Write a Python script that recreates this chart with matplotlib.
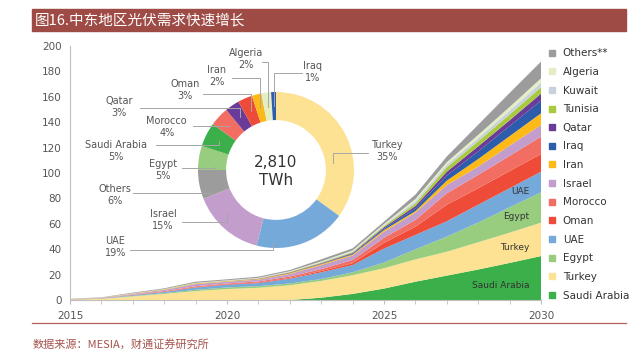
import numpy as np
import matplotlib.pyplot as plt
from matplotlib.lines import Line2D
from matplotlib.patches import Rectangle

plt.rcParams['font.family'] = ['DejaVu Sans', 'Noto Sans CJK SC']

years = list(range(2015, 2031))

# stacked area, TWh (bottom to top)
series_names = ['Saudi Arabia', 'Turkey', 'Egypt', 'UAE', 'Oman', 'Morocco', 'Israel',
                'Iran', 'Iraq', 'Qatar', 'Tunisia', 'Kuwait', 'Algeria', 'Others**']
saudi   = [0, 0, 0, 0, 0, 0, 0, 0, 1.8, 4.8, 9.0, 14.4, 19.2, 24.0, 29.2, 34.6]
turkey  = [0.3, 0.9, 2.8, 4.8, 7.0, 8.6, 9.6, 11.6, 13.2, 14.7, 16.0, 17.6, 18.8, 21.5, 23.8, 26.3]
egypt   = [0.05, 0.1, 0.4, 0.6, 1.0, 1.3, 1.3, 1.4, 1.5, 2.3, 4.5, 7.9, 11.9, 15.5, 20.0, 23.9]
uae     = [0.1, 0.2, 0.6, 0.9, 1.8, 2.1, 2.4, 3.8, 5.3, 5.7, 11.0, 11.3, 12.1, 14.0, 15.0, 16.2]
oman    = [0.05, 0.05, 0.1, 0.2, 0.3, 0.4, 0.5, 0.6, 1.0, 1.5, 4.5, 6.5, 13.0, 13.0, 13.5, 14.0]
morocco = [0.1, 0.1, 0.3, 0.5, 0.7, 0.6, 0.8, 1.1, 1.5, 2.5, 4.0, 5.3, 9.0, 10.5, 12.0, 13.6]
israel  = [0.1, 0.25, 0.6, 1.0, 1.8, 1.4, 1.4, 2.0, 3.2, 3.5, 4.8, 5.8, 6.5, 6.5, 8.0, 9.2]
iran    = [0.05, 0.1, 0.2, 0.3, 0.4, 0.4, 0.5, 0.7, 0.8, 0.8, 1.3, 1.2, 3.5, 6.0, 7.5, 9.2]
iraq    = [0, 0, 0, 0, 0, 0, 0.1, 0.2, 0.3, 0.6, 1.1, 2.2, 4.0, 6.0, 8.0, 10.0]
qatar   = [0, 0, 0, 0, 0, 0.1, 0.2, 0.3, 0.4, 0.6, 1.0, 1.8, 3.0, 4.0, 4.5, 5.5]
tunisia = [0.05, 0.05, 0.1, 0.1, 0.2, 0.2, 0.2, 0.3, 0.5, 0.7, 1.0, 2.0, 3.5, 4.0, 4.5, 5.0]
kuwait  = [0, 0.05, 0.1, 0.1, 0.1, 0.2, 0.2, 0.3, 0.4, 0.6, 0.8, 1.8, 2.0, 2.5, 3.0, 3.5]
algeria = [0.05, 0.05, 0.1, 0.1, 0.2, 0.2, 0.3, 0.4, 0.5, 0.7, 0.8, 1.7, 2.0, 2.5, 3.0, 3.5]
others  = [0.15, 0.25, 0.5, 0.6, 0.9, 0.8, 0.9, 0.9, 1.6, 1.7, 1.9, 3.5, 4.5, 8.0, 11.0, 13.2]
series = [saudi, turkey, egypt, uae, oman, morocco, israel, iran, iraq, qatar,
          tunisia, kuwait, algeria, others]

colors = {'Saudi Arabia': '#3BAF4A', 'Turkey': '#FCE292', 'Egypt': '#98CD80',
          'UAE': '#74A9DA', 'Oman': '#EE4B38', 'Morocco': '#F26E62',
          'Israel': '#C39DCB', 'Iran': '#FDB917', 'Iraq': '#2C5CAA',
          'Qatar': '#6B3B99', 'Tunisia': '#A9CA3C', 'Kuwait': '#C9D2DC',
          'Algeria': '#E3EEC4', 'Others**': '#9C9C9C', 'Others': '#9C9C9C'}

# donut: share of 2030 total (2,810 TWh)
pie_labels = ['Turkey', 'UAE', 'Israel', 'Others', 'Egypt', 'Saudi Arabia', 'Morocco',
              'Qatar', 'Oman', 'Iran', 'Algeria', 'Iraq']
pie_share = [35, 19, 15, 6, 5, 5, 4, 3, 3, 2, 2, 1]

inline_labels = ['UAE', 'Egypt', 'Turkey', 'Saudi Arabia']
inline_y = [85.3, 65.4, 41.7, 11.8]

fig = plt.figure(figsize=(6.42, 3.54), dpi=100)

# title bar
fig.patches.append(Rectangle((32 / 642, 1 - 31 / 354), 594 / 642, 22 / 354,
                             transform=fig.transFigure, color='#9E4B46', zorder=0))
fig.text(35 / 642, 1 - 20 / 354, '图16.中东地区光伏需求快速增长', color='white',
         fontsize=10.5, family=['Noto Sans CJK SC'], va='center', ha='left')
fig.lines.append(Line2D([32 / 642, 626 / 642], [1 - 323 / 354] * 2,
                        transform=fig.transFigure, color='#B5605A', lw=0.9))
fig.text(33 / 642, 1 - 344 / 354, '数据来源：MESIA，财通证券研究所', color='#A5534C',
         fontsize=8, family=['Noto Sans CJK SC'], va='center', ha='left')

# main stacked area
ax = fig.add_axes([70 / 642, 54 / 354, 471 / 642, 254 / 354])
ax.stackplot(years, *series, colors=[colors[n] for n in series_names], lw=0)
ax.set_xlim(2015, 2030)
ax.set_ylim(0, 200)
ax.set_yticks(range(0, 201, 20))
ax.set_xticks(years, minor=True)
ax.set_xticks([2015, 2020, 2025, 2030])
ax.tick_params(axis='y', length=0, labelsize=7.5, labelcolor='#555555', pad=6)
ax.tick_params(axis='x', which='both', length=3, color='#BFBFBF', labelsize=7.5,
               labelcolor='#555555', pad=5)
for s in ['top', 'right']:
    ax.spines[s].set_visible(False)
for s in ['left', 'bottom']:
    ax.spines[s].set_color('#BFBFBF')
    ax.spines[s].set_linewidth(0.8)

for name, yv in zip(inline_labels, inline_y):
    ax.text(2029.62, yv, name, ha='right', va='center', fontsize=6.5, color='#333333')

handles = [Line2D([], [], marker='s', ls='none', markersize=4.5, color=colors[n])
           for n in series_names[::-1]]
fig.legend(handles, series_names[::-1], loc='upper left',
           bbox_to_anchor=(543 / 642, 1 - 43 / 354), frameon=False, fontsize=7.5,
           labelspacing=0.83, handlelength=0.8, handletextpad=0.6, borderpad=0,
           labelcolor='#333333')

# donut
pax = fig.add_axes([(276 - 78) / 642, (354 - 170 - 78) / 354, 156 / 642, 156 / 354])
pax.pie(pie_share, colors=[colors[n] for n in pie_labels], startangle=90,
        counterclock=False, radius=1, wedgeprops=dict(width=0.36, linewidth=0))
pax.set_xlim(-1, 1)
pax.set_ylim(-1, 1)
pax.axis('off')
pax.text(0, 0.09, '2,810', ha='center', va='center', fontsize=11, color='#333333')
pax.text(0, -0.13, 'TWh', ha='center', va='center', fontsize=11, color='#333333')

# label layout: text x, text y, leader y, leader start x, position in slice, radius
label_pos = {
    'Algeria':      (-0.39, 1.42, 1.38, -0.18, 0.5, 0.82),
    'Iraq':         (0.47, 1.26, 1.25, 0.33, 0.5, 0.82),
    'Iran':         (-0.76, 1.20, 1.18, -0.57, 0.5, 0.82),
    'Oman':         (-1.17, 1.02, 0.98, -0.94, 0.5, 0.82),
    'Qatar':        (-2.01, 0.81, 0.80, -1.74, 0.5, 0.82),
    'Morocco':      (-1.40, 0.55, 0.57, -1.06, 0.5, 0.82),
    'Saudi Arabia': (-2.05, 0.25, 0.32, -1.54, 0.5, 0.82),
    'Egypt':        (-1.45, 0.00, 0.03, -1.20, 0.15, 0.78),
    'Others':       (-2.06, -0.32, -0.30, -1.83, 0.1, 0.88),
    'Israel':       (-1.45, -0.64, -0.67, -1.21, 0.65, 0.82),
    'UAE':          (-2.06, -0.99, -1.03, -1.87, 0.82, 0.94),
    'Turkey':       (1.42, 0.25, 0.22, 1.18, 0.66, 0.735),
}
total = sum(pie_share)
start = 90.0
for name, share in zip(pie_labels, pie_share):
    span = share / total * 360
    tx, ty, ly, lx, frac, r = label_pos[name]
    ang = np.deg2rad(start - frac * span)
    ex, ey = r * np.cos(ang), r * np.sin(ang)
    pax.plot([lx, ex, ex], [ly, ly, ey], color='#A6A6A6', lw=0.7, clip_on=False)
    pax.text(tx, ty, f'{name}\n{share}%', ha='center', va='center', fontsize=7,
             color='#555555', linespacing=1.25)
    start -= span

fig.savefig('out.png', dpi=100)
